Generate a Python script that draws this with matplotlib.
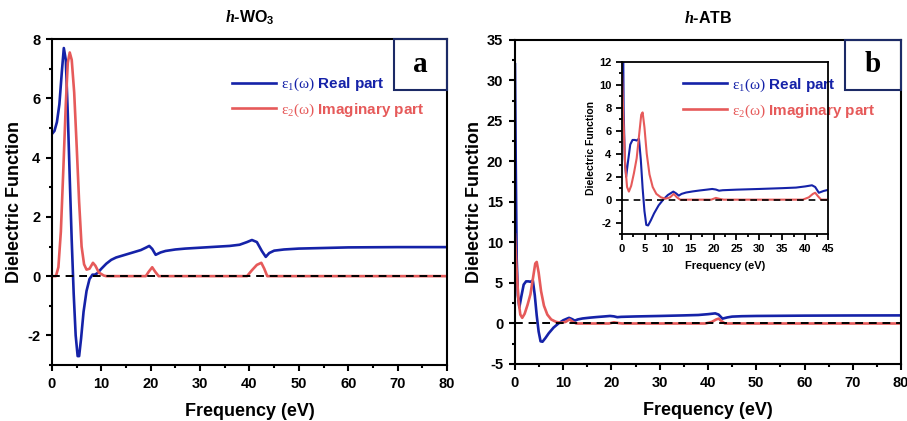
import matplotlib.pyplot as plt
from matplotlib.ticker import MultipleLocator
from matplotlib.patches import Rectangle

plt.rcParams['font.family'] = ['Liberation Sans', 'DejaVu Sans']
plt.rcParams['mathtext.fontset'] = 'custom'
plt.rcParams['mathtext.rm'] = 'Liberation Serif'
plt.rcParams['mathtext.it'] = 'Liberation Serif:italic:bold'
plt.rcParams['mathtext.bf'] = 'Liberation Sans:bold'
plt.rcParams['axes.unicode_minus'] = False

# h-WO3 (panel a)
wo3_real_x = [0, 0.5, 1.0, 1.5, 2.0, 2.4, 2.8, 3.2, 3.6, 4.0, 4.4, 4.8, 5.2, 5.5, 5.9, 6.4,
              7.0, 7.6, 8.2, 8.7, 9.2, 10, 11, 12, 13, 14, 15, 16, 17, 18, 19, 19.7, 20.3,
              21, 22, 23, 25, 27, 30, 33, 36, 38, 39.5, 40.5, 41.5, 42.5, 43.3, 44, 45, 47,
              50, 55, 60, 70, 80]
wo3_real_y = [4.8, 4.9, 5.2, 5.8, 6.9, 7.7, 7.3, 5.5, 3.3, 1.2, -0.6, -2.0, -2.7, -2.7, -2.1,
              -1.2, -0.5, -0.1, 0.05, 0.05, 0.1, 0.25, 0.42, 0.55, 0.63, 0.68, 0.73, 0.78,
              0.83, 0.88, 0.96, 1.02, 0.92, 0.72, 0.8, 0.85, 0.9, 0.93, 0.96, 0.99, 1.02,
              1.06, 1.15, 1.22, 1.15, 0.85, 0.65, 0.78, 0.86, 0.9, 0.93, 0.95, 0.97, 0.98,
              0.98]
wo3_imag_x = [0, 0.8, 1.3, 1.8, 2.3, 2.8, 3.2, 3.6, 4.0, 4.5, 5.0, 5.5, 6.0, 6.5, 7.0, 7.6,
              8.3, 8.8, 9.5, 10.5, 11, 19, 19.6, 20.3, 20.9, 21.6, 39.5, 40.5, 41.5, 42.4,
              43.0, 43.6, 80]
wo3_imag_y = [0, 0, 0.3, 1.5, 3.6, 5.8, 7.2, 7.55, 7.3, 6.2, 4.4, 2.5, 1.0, 0.4, 0.22, 0.25,
              0.45, 0.35, 0.12, 0.02, 0, 0, 0.15, 0.3, 0.15, 0, 0, 0.2, 0.38, 0.45, 0.25, 0,
              0]

# h-ATB (panel b and inset)
atb_real_x = [0.0, 0.15, 0.35, 0.6, 0.9, 1.3, 1.8, 2.3, 2.8, 3.2, 3.7, 4.1, 4.5, 4.9, 5.3,
              5.7, 6.3, 7.0, 8.0, 9.0, 10.0, 11.2, 11.8, 12.4, 13.0, 14.0, 15.5, 17, 18.5,
              19.7, 20.5, 21.2, 22, 25, 30, 35, 38, 40, 41.5, 42.2, 43.0, 44, 45, 47, 50,
              60, 70, 80]
atb_real_y = [32, 20, 8, 3.5, 2.0, 3.3, 4.8, 5.2, 5.2, 5.15, 5.3, 3.5, 1.0, -1.0, -2.2,
              -2.25, -1.8, -1.2, -0.5, 0.0, 0.4, 0.7, 0.55, 0.35, 0.5, 0.62, 0.72, 0.8, 0.87,
              0.93, 0.88, 0.78, 0.82, 0.87, 0.93, 1.0, 1.05, 1.15, 1.25, 1.1, 0.6, 0.75,
              0.85, 0.9, 0.93, 0.97, 0.99, 1.0]
atb_imag_x = [0, 0.3, 0.7, 1.1, 1.5, 2.0, 2.6, 3.2, 3.7, 4.2, 4.5, 4.9, 5.4, 6.0, 6.7, 7.5,
              8.5, 9.5, 10.5, 11.3, 12.0, 12.7, 19.5, 20.5, 21.5, 22.2, 39.5, 40.8, 41.7,
              42.2, 42.8, 43.5, 80]
atb_imag_y = [11, 7, 3, 1.1, 0.7, 1.2, 2.3, 3.6, 5.5, 7.4, 7.6, 6.3, 4.0, 2.2, 1.1, 0.5,
              0.2, 0.08, 0.2, 0.5, 0.2, 0.0, 0.0, 0.15, 0.05, 0, 0, 0.2, 0.5, 0.6, 0.3, 0, 0]

blue = '#1522a8'
red = '#e65a5a'
navy = '#1c2a66'
lbl_real = r'$\mathrm{\varepsilon_1(\omega)}$ Real part'
lbl_imag = r'$\mathrm{\varepsilon_2(\omega)}$ Imaginary part'


def style_axes(ax, xmaj, xmin, ymaj, ymin, fs, lw=1.5, pad=4):
    ax.xaxis.set_major_locator(MultipleLocator(xmaj))
    ax.xaxis.set_minor_locator(MultipleLocator(xmin))
    ax.yaxis.set_major_locator(MultipleLocator(ymaj))
    ax.yaxis.set_minor_locator(MultipleLocator(ymin))
    ax.tick_params(which='both', direction='out', width=lw, labelsize=fs, pad=pad)
    ax.tick_params(which='major', length=4.5)
    ax.tick_params(which='minor', length=2.5)
    for s in ax.spines.values():
        s.set_linewidth(lw)
    for t in ax.get_xticklabels() + ax.get_yticklabels():
        t.set_fontweight('bold')


def add_box(ax, letter, x0, y0):
    ax.add_patch(Rectangle((x0, y0), 1 - x0, 1 - y0, transform=ax.transAxes,
                           fill=False, edgecolor=navy, lw=1.5, zorder=5, clip_on=False))
    ax.text((1 + x0) / 2, (1 + y0) / 2, letter, transform=ax.transAxes, ha='center',
            va='center', fontsize=21, fontweight='bold', family='Liberation Serif')


fig = plt.figure(figsize=(9.07, 4.21), dpi=100)

# panel a
ax1 = fig.add_axes([0.0573, 0.133, 0.4355, 0.774])
ax1.plot(wo3_real_x, wo3_real_y, color=blue, lw=1.9, label=lbl_real)
ax1.plot(wo3_imag_x, wo3_imag_y, color=red, lw=1.9, label=lbl_imag)
ax1.axhline(0, color='black', ls='--', lw=1.4, dashes=(4, 3), zorder=3)
ax1.set_xlim(0, 80)
ax1.set_ylim(-3, 8)
style_axes(ax1, 10, 5, 2, 1, 10.5)
ax1.set_xlabel('Frequency (eV)', fontsize=13, fontweight='bold', labelpad=9)
ax1.set_ylabel('Dielectric Function', fontsize=13, fontweight='bold', labelpad=3)
ax1.set_title(r'$\it{h}$-WO$_\mathbf{3}$', fontsize=11.5, fontweight='bold', pad=12)
ax1.legend(loc='upper left', bbox_to_anchor=(0.42, 0.93), frameon=False,
           handlelength=2.9, labelspacing=0.55, handletextpad=0.3,
           labelcolor='linecolor', prop={'weight': 'bold', 'size': 11})
add_box(ax1, 'a', 0.866, 0.844)

# panel b
ax2 = fig.add_axes([0.5678, 0.1354, 0.4256, 0.7696])
ax2.plot(atb_real_x, atb_real_y, color=blue, lw=1.9, label=lbl_real)
ax2.plot(atb_imag_x, atb_imag_y, color=red, lw=1.9, label=lbl_imag)
ax2.axhline(0, color='black', ls='--', lw=1.4, dashes=(4, 3), zorder=3)
ax2.set_xlim(0, 80)
ax2.set_ylim(-5, 35)
style_axes(ax2, 10, 5, 5, 2.5, 10.5)
ax2.set_xlabel('Frequency (eV)', fontsize=13, fontweight='bold', labelpad=9)
ax2.set_ylabel('Dielectric Function', fontsize=13, fontweight='bold', labelpad=3)
ax2.set_title(r'$\it{h}$-ATB', fontsize=11.5, fontweight='bold', pad=12)
ax2.legend(loc='upper left', bbox_to_anchor=(0.40, 0.93), frameon=False,
           handlelength=2.9, labelspacing=0.55, handletextpad=0.3,
           labelcolor='linecolor', prop={'weight': 'bold', 'size': 11})
add_box(ax2, 'b', 0.855, 0.846)

# inset
ax3 = fig.add_axes([0.6858, 0.444, 0.2271, 0.409])
ax3.plot(atb_real_x, atb_real_y, color=blue, lw=1.5)
ax3.plot(atb_imag_x, atb_imag_y, color=red, lw=1.5)
ax3.axhline(0, color='black', ls='--', lw=1.2, dashes=(4, 3), zorder=3)
ax3.set_xlim(0, 45)
ax3.set_ylim(-3, 12)
style_axes(ax3, 5, 2.5, 2, 1, 8, lw=1.3, pad=3)
ax3.set_xlabel('Frequency (eV)', fontsize=8, fontweight='bold', labelpad=5)
ax3.set_ylabel('Dielectric Function', fontsize=7.5, fontweight='bold', labelpad=2)
ax3.patch.set_alpha(0)

fig.savefig('out.png', dpi=100)
